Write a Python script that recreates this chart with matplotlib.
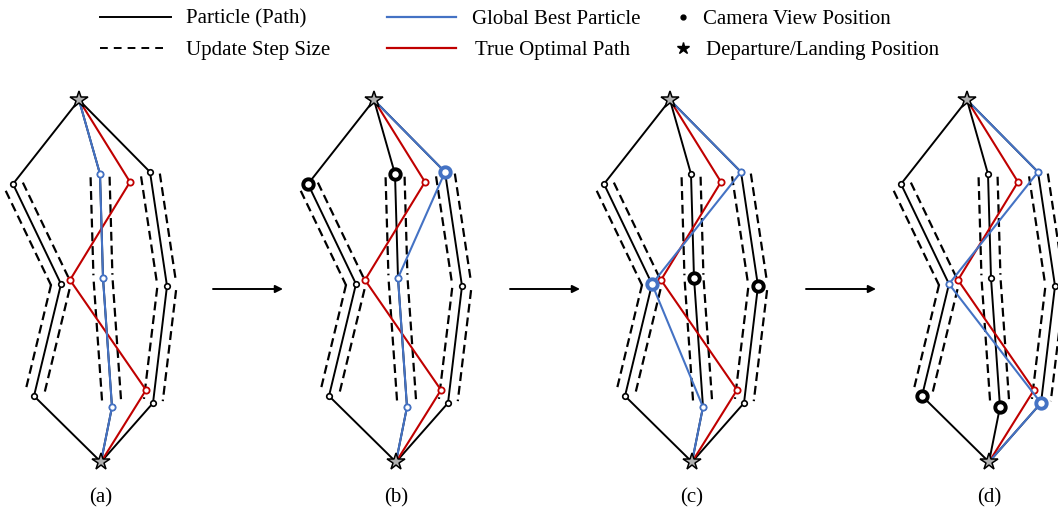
import numpy as np
import matplotlib
matplotlib.use('Agg')
import matplotlib.pyplot as plt

# ── Layout anchors (pixel coords, y down) ─────────────────────
PANEL_X = [79, 374, 670, 967]          # departure star x per panel
PANEL_LABELS = ['(a)', '(b)', '(c)', '(d)']
DEPART_Y, LAND_Y = 100, 462
LAND_DX = 22

# ── Particle waypoints, relative to departure star ───────────
LEFT_X = [-66, -18, -45];  LEFT_Y = [184, 284, 396]
MID_X = [21, 24, 33];      MID_Y = [174, 278, 407]
RIGHT_X = [71, 88, 74];    RIGHT_Y = [172, 286, 403]
TRUE_X = [51, -9, 67];     TRUE_Y = [182, 280, 390]

# particle used by the global best at each waypoint, per panel
GBEST = [['mid', 'mid', 'mid'],
         ['right', 'mid', 'mid'],
         ['right', 'left', 'mid'],
         ['right', 'left', 'right']]
# waypoint currently updated (big camera marker), per panel
ACTIVE = [None, 0, 1, 2]

BLUE = '#4472C4'
RED = '#C00000'
SERIF = ['Liberation Serif', 'DejaVu Serif']

PARTICLES = {'left': (LEFT_X, LEFT_Y), 'mid': (MID_X, MID_Y), 'right': (RIGHT_X, RIGHT_Y)}


def path(px, xs, ys):
    x = [px] + [px + v for v in xs] + [px + LAND_DX]
    y = [DEPART_Y] + list(ys) + [LAND_Y]
    return np.array(x, float), np.array(y, float)


def step_lines(ax, x, y, off=9.5, trim=3):
    # dashed step-size bounds on both sides of the inner segments
    for i in range(1, len(x) - 2):
        p0 = np.array([x[i], y[i]]); p1 = np.array([x[i + 1], y[i + 1]])
        d = (p1 - p0) / np.hypot(*(p1 - p0))
        n = np.array([d[1], -d[0]])
        for s in (-1, 1):
            a = p0 + s * off * n + trim * d
            b = p1 + s * off * n - trim * d
            ax.plot([a[0], b[0]], [a[1], b[1]], color='black', lw=1.6,
                    ls=(0, (4.0, 2.2)), zorder=1)


fig = plt.figure(figsize=(10.58, 5.14), dpi=100)
ax = fig.add_axes([0, 0, 1, 1])
ax.set_xlim(0, 1058); ax.set_ylim(514, 0); ax.axis('off')

for k, px in enumerate(PANEL_X):
    # particles
    for name, (xs, ys) in PARTICLES.items():
        x, y = path(px, xs, ys)
        step_lines(ax, x, y)
        ax.plot(x, y, color='black', lw=1.4, zorder=2)
        ax.plot(x[1:-1], y[1:-1], 'o', ms=4, mfc='white', mec='black', mew=1.2, zorder=3)

    # true optimal path
    x, y = path(px, TRUE_X, TRUE_Y)
    ax.plot(x, y, color=RED, lw=1.5, zorder=4)
    ax.plot(x[1:-1], y[1:-1], 'o', ms=4.5, mfc='white', mec=RED, mew=1.3, zorder=5)

    # global best particle
    gx = [PARTICLES[p][0][i] for i, p in enumerate(GBEST[k])]
    gy = [PARTICLES[p][1][i] for i, p in enumerate(GBEST[k])]
    x, y = path(px, gx, gy)
    ax.plot(x, y, color=BLUE, lw=1.5, zorder=6)
    ax.plot(x[1:-1], y[1:-1], 'o', ms=4.5, mfc='white', mec=BLUE, mew=1.3, zorder=7)

    # camera view being updated
    if ACTIVE[k] is not None:
        i = ACTIVE[k]
        for name, (xs, ys) in PARTICLES.items():
            c = BLUE if GBEST[k][i] == name else 'black'
            ax.plot(px + xs[i], ys[i], 'o', ms=7.5, mfc='white', mec=c, mew=2.8, zorder=8)

    # departure / landing stars
    ax.plot([px, px + LAND_DX], [DEPART_Y, LAND_Y], '*', ls='none', ms=13,
            mfc='#b0b0b0', mec='black', mew=1.1, zorder=9)
    ax.text(px + LAND_DX, 498, PANEL_LABELS[k], ha='center', va='center',
            fontsize=15, family=SERIF)

# arrows between panels
for x0 in [213, 510, 806]:
    ax.annotate('', xy=(x0 + 70, 289), xytext=(x0, 289),
                arrowprops=dict(arrowstyle='-|>', color='black', lw=1.4,
                                mutation_scale=11, shrinkA=0, shrinkB=0))

# ── Legend ────────────────────────────────────────────────────
ty1, ty2 = 17, 48
ax.plot([100, 171], [ty1, ty1], color='black', lw=1.4)
ax.plot([100, 168], [ty2, ty2], color='black', lw=1.4, ls=(0, (4, 3.1)))
ax.plot([387, 456], [ty1, ty1], color=BLUE, lw=1.6)
ax.plot([387, 456], [ty2, ty2], color=RED, lw=1.6)
ax.plot(683, ty1, 'o', ms=3.5, color='black')
ax.plot(683, ty2, '*', ms=9, color='black')
leg = [(186, ty1, 'Particle (Path)'), (186, ty2, 'Update Step Size'),
       (472, ty1, 'Global Best Particle'), (475, ty2, 'True Optimal Path'),
       (703, ty1, 'Camera View Position'), (706, ty2, 'Departure/Landing Position')]
for tx, ty, s in leg:
    ax.text(tx, ty + 2, s, ha='left', va='center', fontsize=15, family=SERIF)

fig.savefig('out.png', dpi=100, facecolor='white')
plt.close()
